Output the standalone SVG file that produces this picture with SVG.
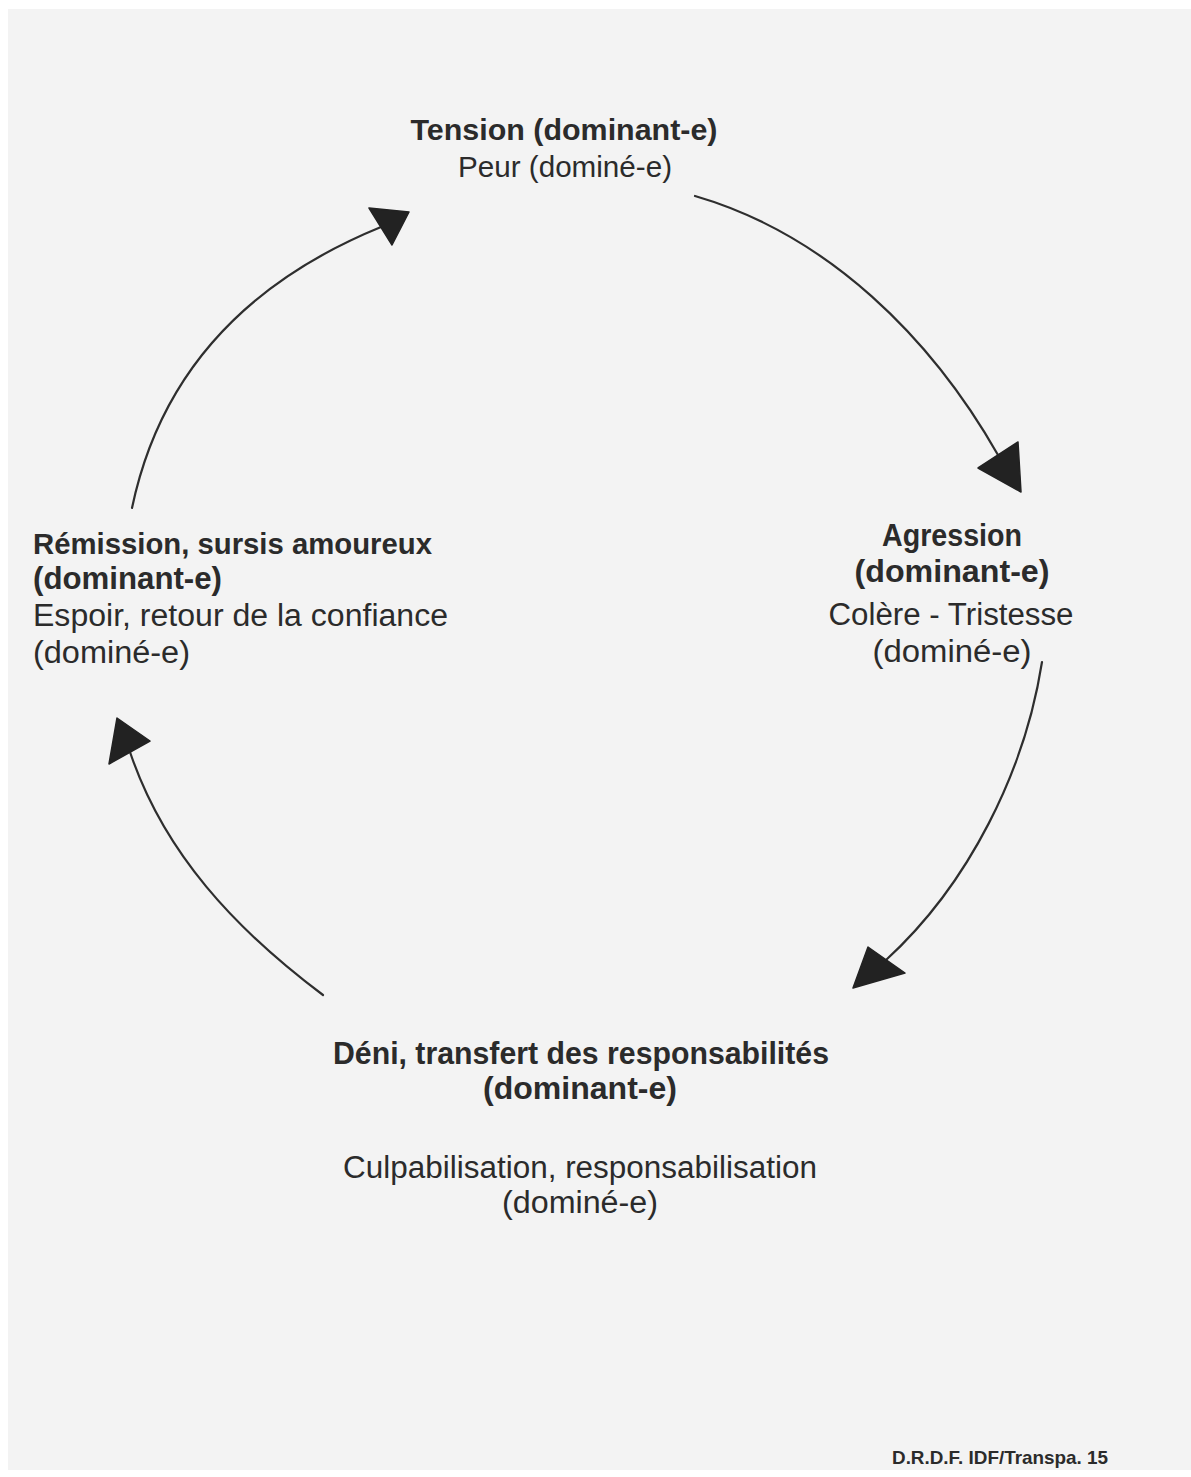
<svg xmlns="http://www.w3.org/2000/svg" width="1191" height="1477" viewBox="0 0 1191 1477">
  <style>
    .b { font-family: "Liberation Sans", Arial, sans-serif; font-weight: bold; fill: #2b2b2b; }
    .r { font-family: "Liberation Sans", Arial, sans-serif; font-weight: normal; fill: #2b2b2b; }
    .c { text-anchor: middle; }
    .arc { fill: none; stroke: #2e2e2e; stroke-width: 2.2; stroke-linecap: round; }
    .head { fill: #222222; stroke: #222222; stroke-width: 1.5; stroke-linejoin: round; }
  </style>
  <rect x="0" y="0" width="1191" height="1477" fill="#ffffff"/>
  <rect x="8" y="9" width="1183" height="1461" fill="#f3f3f3"/>

  <g id="connectors">
    <path class="arc" d="M132,508 Q173,312 381,227"/>
    <polygon class="head" points="369,208 409,212 392,245"/>

    <path class="arc" d="M695,196 C829,235 932,339 998,455"/>
    <polygon class="head" points="978,468 1018,442 1021,492"/>

    <path class="arc" d="M1042,662 C1025,771 969,884 886,960"/>
    <polygon class="head" points="868,947 905,973 853,988"/>

    <path class="arc" d="M323,995 C235,929 164,853 130,752"/>
    <polygon class="head" points="117,718 150,741 109,764"/>
  </g>

  <g id="node-tension">
    <text class="b c" x="564" y="140" font-size="30" textLength="307" lengthAdjust="spacingAndGlyphs">Tension (dominant-e)</text>
    <text class="r c" x="565" y="177" font-size="29" textLength="214" lengthAdjust="spacingAndGlyphs">Peur (dominé-e)</text>
  </g>

  <g id="node-agression">
    <text class="b c" x="952" y="546" font-size="31" textLength="140" lengthAdjust="spacingAndGlyphs">Agression</text>
    <text class="b c" x="952" y="582" font-size="31" textLength="195" lengthAdjust="spacingAndGlyphs">(dominant-e)</text>
    <text class="r c" x="951" y="625" font-size="31" textLength="245" lengthAdjust="spacingAndGlyphs">Colère - Tristesse</text>
    <text class="r c" x="952" y="662" font-size="31" textLength="159" lengthAdjust="spacingAndGlyphs">(dominé-e)</text>
  </g>

  <g id="node-deni">
    <text class="b c" x="581" y="1064" font-size="31" textLength="496" lengthAdjust="spacingAndGlyphs">Déni, transfert des responsabilités</text>
    <text class="b c" x="580" y="1099" font-size="31" textLength="194" lengthAdjust="spacingAndGlyphs">(dominant-e)</text>
    <text class="r c" x="580" y="1178" font-size="31" textLength="474" lengthAdjust="spacingAndGlyphs">Culpabilisation, responsabilisation</text>
    <text class="r c" x="580" y="1213" font-size="31" textLength="156" lengthAdjust="spacingAndGlyphs">(dominé-e)</text>
  </g>

  <g id="node-remission">
    <text class="b" x="33" y="554" font-size="30" textLength="399" lengthAdjust="spacingAndGlyphs">Rémission, sursis amoureux</text>
    <text class="b" x="33" y="589" font-size="31" textLength="189" lengthAdjust="spacingAndGlyphs">(dominant-e)</text>
    <text class="r" x="33" y="626" font-size="31" textLength="415" lengthAdjust="spacingAndGlyphs">Espoir, retour de la confiance</text>
    <text class="r" x="33" y="663" font-size="31" textLength="157" lengthAdjust="spacingAndGlyphs">(dominé-e)</text>
  </g>

  <g id="footer">
    <text class="b" x="892" y="1464" font-size="18.5" textLength="216" lengthAdjust="spacingAndGlyphs">D.R.D.F. IDF/Transpa. 15</text>
  </g>
</svg>
